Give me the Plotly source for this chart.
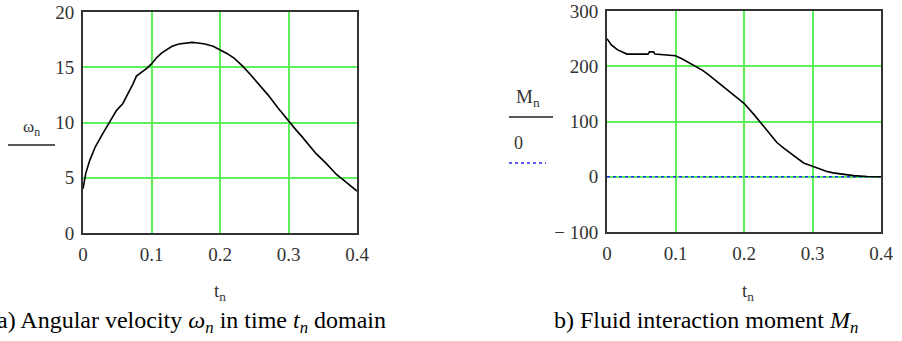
import plotly.graph_objects as go

# ---- data ----
t_omega = [0.0, 0.004, 0.01, 0.018, 0.028, 0.039, 0.049, 0.058, 0.066, 0.073, 0.078, 0.085,
           0.093, 0.1, 0.108, 0.115, 0.122, 0.13, 0.14,
           0.15, 0.159, 0.168, 0.178, 0.19, 0.2, 0.21, 0.221, 0.233, 0.245, 0.258, 0.27, 0.285,
           0.3, 0.31, 0.32, 0.33, 0.34, 0.355, 0.37, 0.38, 0.39, 0.4]
omega = [4.0, 5.4, 6.6, 7.8, 8.9, 10.1, 11.1, 11.7, 12.6, 13.5, 14.2, 14.5,
         14.9, 15.3, 15.9, 16.3, 16.6, 16.9, 17.1,
         17.2, 17.25, 17.2, 17.1, 16.9, 16.6, 16.25, 15.8, 15.1, 14.3, 13.4, 12.5, 11.3,
         10.1, 9.4, 8.7, 8.0, 7.2, 6.3, 5.3, 4.8, 4.3, 3.8]

t_moment = [0.0, 0.006, 0.015, 0.029, 0.045, 0.06, 0.062, 0.068, 0.07, 0.085, 0.1, 0.11, 0.12,
            0.13, 0.139, 0.148, 0.158, 0.17, 0.183, 0.2, 0.215, 0.229, 0.238, 0.248, 0.258,
            0.268, 0.278, 0.287, 0.3, 0.31, 0.32, 0.33, 0.345, 0.36, 0.38, 0.4]
moment = [250, 239, 230, 222, 222, 222, 226, 226, 222, 221, 219, 213, 206,
          200, 193, 185, 175, 164, 151, 133, 112, 91, 76, 62, 52,
          43, 33, 25, 19, 14, 10, 7, 4, 2, 0.5, 0]

zero_t = [0.0, 0.4]
zero_v = [0, 0]

x_ticks = [0, 0.1, 0.2, 0.3, 0.4]
x_tick_text = ["0", "0.1", "0.2", "0.3", "0.4"]
y1_ticks = [0, 5, 10, 15, 20]
y1_tick_text = ["0", "5", "10", "15", "20"]
y2_ticks = [-100, 0, 100, 200, 300]
y2_tick_text = ["\u2212 100", "0", "100", "200", "300"]

caption_a = "a) Angular velocity <i>\u03c9<sub>n</sub></i> in time <i>t<sub>n</sub></i> domain"
caption_b = "b) Fluid interaction moment <i>M<sub>n</sub></i>"

# ---- figure ----
W, H = 902, 341
SERIF = "Liberation Serif, Times New Roman, Times, serif"
GRID = "#5cf05c"
FRAME = "#333333"
TICKC = "#333333"

fig = go.Figure()
fig.add_trace(go.Scatter(x=t_omega, y=omega, mode="lines",
                         line=dict(color="black", width=1.6), xaxis="x", yaxis="y",
                         showlegend=False))
fig.add_trace(go.Scatter(x=zero_t, y=zero_v, mode="lines",
                         line=dict(color="#2a2aff", width=1.3, dash="dot"), xaxis="x2", yaxis="y2",
                         showlegend=False))
fig.add_trace(go.Scatter(x=t_moment, y=moment, mode="lines",
                         line=dict(color="black", width=1.6), xaxis="x2", yaxis="y2",
                         showlegend=False))

def px(x):
    return x / W

def py(y):
    return 1 - y / H

def axis_common():
    return dict(showgrid=True, gridcolor=GRID, gridwidth=2, zeroline=False,
                showline=True, mirror=True, linecolor=FRAME, linewidth=2,
                automargin=False, ticklabelstandoff=3,
                ticks="", tickfont=dict(family=SERIF, size=19, color=TICKC))

fig.update_layout(
    template="none",
    width=W, height=H,
    margin=dict(l=0, r=0, t=0, b=0, pad=0),
    paper_bgcolor="white", plot_bgcolor="white",
    font=dict(family=SERIF),
    xaxis=dict(domain=[px(83), px(357)], range=[0, 0.4], tickvals=x_ticks,
               ticktext=x_tick_text, anchor="y", **axis_common()),
    yaxis=dict(domain=[py(233), py(12)], range=[0, 20], tickvals=y1_ticks,
               ticktext=y1_tick_text, anchor="x", **axis_common()),
    xaxis2=dict(domain=[px(607), px(881)], range=[0, 0.4], tickvals=x_ticks,
                ticktext=x_tick_text, anchor="y2", **axis_common()),
    yaxis2=dict(domain=[py(232), py(11)], range=[-100, 300], tickvals=y2_ticks,
                ticktext=y2_tick_text, anchor="x2", **axis_common()),
)

def note(x, y, text, size, color=TICKC):
    return dict(x=px(x), y=py(y), xref="paper", yref="paper", showarrow=False,
                xanchor="center", yanchor="middle", text=text,
                font=dict(family=SERIF, size=size, color=color))

ann = [
    note(220, 292, "t<sub>n</sub>", 19),
    note(748, 292, "t<sub>n</sub>", 19),
    note(31, 128, "\u03c9<sub>n</sub>", 17),
    note(528, 98, "M<sub>n</sub>", 19),
    note(518, 143, "0", 18),
    note(191, 322, caption_a, 24, "black"),
    note(706, 322, caption_b, 24, "black"),
]
fig.update_layout(annotations=ann)

shapes = [
    dict(type="line", xref="paper", yref="paper", x0=px(8), x1=px(55), y0=py(145), y1=py(145),
         line=dict(color="#222222", width=1.5)),
    dict(type="line", xref="paper", yref="paper", x0=px(509), x1=px(553), y0=py(117), y1=py(117),
         line=dict(color="#222222", width=1.5)),
    dict(type="line", xref="paper", yref="paper", x0=px(509), x1=px(546), y0=py(163), y1=py(163),
         line=dict(color="#2a2aff", width=1.3, dash="dot")),
]
fig.update_layout(shapes=shapes)

fig.write_html(
    "out.html",
    config={"displayModeBar": False},
    post_script="document.body.style.margin='0px';document.body.style.overflow='hidden';",
)
